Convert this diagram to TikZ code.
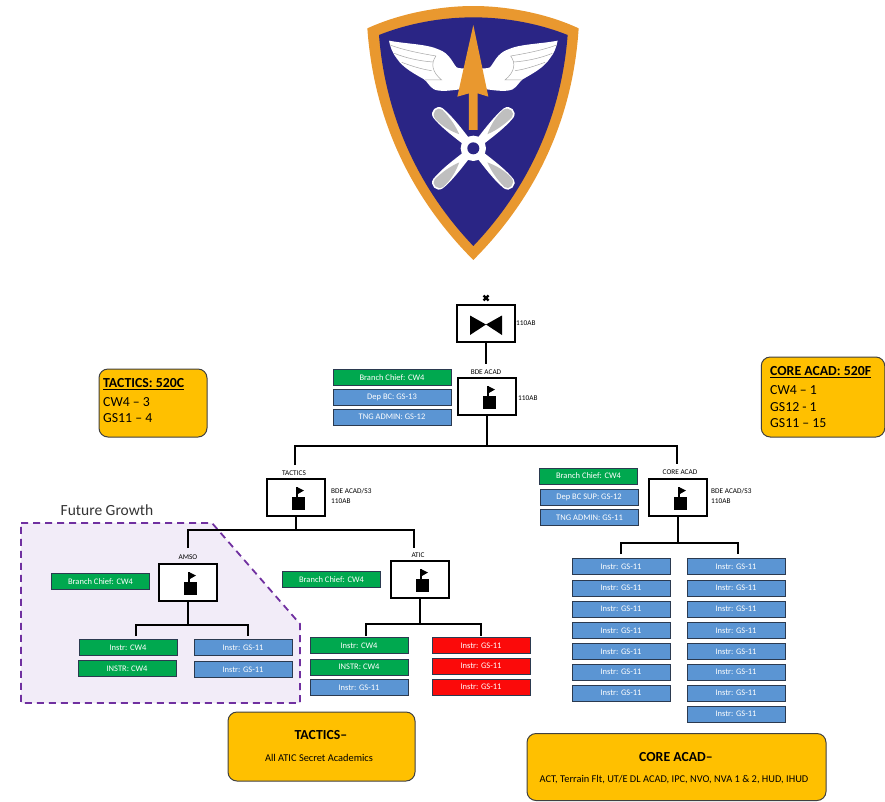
\documentclass[tikz,border=0pt]{standalone}
\usepackage{fontspec}
\setmainfont{Carlito}
\definecolor{shieldorange}{HTML}{E9982F}
\definecolor{shieldnavy}{HTML}{2A2585}
\definecolor{bargreen}{HTML}{00A84F}
\definecolor{barblue}{HTML}{5B95D3}
\definecolor{barred}{HTML}{FB0A0A}
\definecolor{barline}{HTML}{2B3A50}
\definecolor{callout}{HTML}{FFC000}
\definecolor{growthfill}{HTML}{F2ECF8}
\definecolor{growthline}{HTML}{7030A0}
\tikzset{
  bar/.style={rectangle,draw=barline,line width=1pt,minimum width=98pt,minimum height=16pt,inner sep=0pt,text=white,font=\fontsize{8.5}{10}\selectfont},
  greenbar/.style={bar,fill=bargreen},
  bluebar/.style={bar,fill=barblue},
  redbar/.style={bar,fill=barred},
  cmd/.style={rectangle,draw=black,fill=white,line width=2pt,minimum width=58pt,minimum height=37pt,inner sep=0pt},
  conn/.style={draw=black,line width=2pt},
  tag/.style={inner sep=0pt,text=black,font=\fontsize{7.3}{9.5}\selectfont},
  sidetag/.style={tag,anchor=west,align=left},
  callbox/.style={rectangle,rounded corners=9pt,draw=black!75,fill=callout,line width=1pt,inner sep=0pt},
  calltext/.style={anchor=west,inner sep=0pt,font=\fontsize{13.8}{16}\selectfont},
  flagicon/.pic={
    \fill[black] (-4.5,-1) rectangle (8.5,12.5);
    \fill[black] (0,-1) rectangle (2,-10.5);
    \fill[black] (1,-10.5) -- (8,-7) -- (1,-3) -- cycle;
  },
  wing/.pic={
    \fill[white] (147,122) .. controls (200,132) and (260,132) .. (295,148)
      .. controls (330,160) and (338,190) .. (350,202)
      .. controls (358,206) and (370,205) .. (380,205) -- (360,268)
      .. controls (330,272) and (300,276) .. (282,268)
      .. controls (268,260) and (262,245) .. (252,238)
      .. controls (225,222) and (190,205) .. (170,175)
      .. controls (158,160) and (150,140) .. (147,122) -- cycle;
    \draw[gray!70,line width=0.5pt]
      (150,135) .. controls (190,150) and (240,160) .. (288,168)
      (163,160) .. controls (200,175) and (240,183) .. (278,186)
      (185,187) .. controls (215,198) and (245,208) .. (275,212)
      (288,168) .. controls (272,190) and (275,215) .. (305,240) -- (255,240);
  },
  blade/.pic={
    \fill[white] (-12,-25) .. controls (-18,-70) and (-24,-120) .. (-20,-150)
      .. controls (-16,-172) and (16,-172) .. (20,-150)
      .. controls (24,-110) and (16,-60) .. (12,-25) -- cycle;
    \fill[gray!50] (-18,-145) .. controls (-20,-115) and (-12,-85) .. (0,-60)
      .. controls (10,-85) and (16,-115) .. (16,-148)
      .. controls (14,-166) and (-14,-166) .. (-18,-145) -- cycle;
  },
}
\begin{document}
\begin{tikzpicture}[x=1pt,y=-1pt]
\useasboundingbox (0,0) rectangle (885,801);

% ---------- emblem ----------
\begin{scope}[shift={(340,0)},x=0.3333pt,y=-0.3333pt]
  \fill[shieldorange] (82,85) .. controls (180,40) and (300,18) .. (400,18)
    .. controls (500,18) and (620,40) .. (716,85)
    .. controls (700,340) and (600,580) .. (400,780)
    .. controls (200,580) and (100,340) .. (82,85) -- cycle;
  \fill[shieldnavy] (117,105) .. controls (210,68) and (310,52) .. (400,52)
    .. controls (490,52) and (590,68) .. (683,105)
    .. controls (665,340) and (570,560) .. (400,738)
    .. controls (230,560) and (135,340) .. (117,105) -- cycle;
  \pic at (0,0) {wing};
  \pic[xscale=-1] at (800,0) {wing};
  \fill[shieldorange] (400,75) -- (445,290) -- (413,280) -- (413,390) -- (387,390) -- (387,280) -- (352,290) -- cycle;
  \foreach \a in {45,135,225,315} { \pic[rotate=\a] at (400,445) {blade}; }
  \fill[white] (400,445) circle (38);
  \fill[shieldnavy] (400,445) circle (18);
\end{scope}

% ---------- callouts ----------
\node[callbox,minimum width=108pt,minimum height=68pt] (tacticscall) at (153,403) {};
\node[calltext,font=\fontsize{13.8}{16}\selectfont\bfseries] (tacticscallA) at (103,384) {\underline{TACTICS: 520C}};
\node[calltext] (tacticscallB) at (103,402) {CW4 – 3};
\node[calltext] (tacticscallC) at (103,418) {GS11 – 4};

\node[callbox,minimum width=123.5pt,minimum height=80pt] (corecall) at (823,397) {};
\node[calltext,font=\fontsize{13.8}{16}\selectfont\bfseries] (corecallA) at (770,372) {\underline{CORE ACAD: 520F}};
\node[calltext] (corecallB) at (770,390) {CW4 – 1};
\node[calltext] (corecallC) at (770,407) {GS12 - 1};
\node[calltext] (corecallD) at (770,423) {GS11 – 15};

\node[callbox,minimum width=187pt,minimum height=69pt] (tacticsnote) at (321.5,746.5) {};
\node[inner sep=0pt,font=\fontsize{13.8}{16}\selectfont\bfseries] (tacticsnoteA) at (321,735) {TACTICS–};
\node[inner sep=0pt,font=\fontsize{10.4}{12}\selectfont] (tacticsnoteB) at (319,758) {All ATIC Secret Academics};

\node[callbox,minimum width=299pt,minimum height=67pt] (corenote) at (676.5,767) {};
\node[inner sep=0pt,font=\fontsize{13.8}{16}\selectfont\bfseries] (corenoteA) at (676,757) {CORE ACAD–};
\node[inner sep=0pt,font=\fontsize{10.4}{12}\selectfont] (corenoteB) at (674,780) {ACT, Terrain Flt, UT/E DL ACAD, IPC, NVO, NVA 1 \& 2, HUD, IHUD};

% ---------- future growth ----------
\fill[growthfill] (21,523) -- (212,523) -- (300,624) -- (300,703) -- (21,703) -- cycle;
\draw[growthline,line width=1.8pt,dash pattern=on 7pt off 5pt] (21,523) -- (212,523) -- (300,624) -- (300,703) -- (21,703) -- cycle;
\node[inner sep=0pt,font=\fontsize{15.5}{18}\selectfont,text=black!80] (growth) at (107,510) {Future Growth};

% ---------- command boxes ----------
\node[cmd] (top) at (486,323.5) {};
\fill[black] (470,315.5) -- (486,324.5) -- (470,335) -- cycle;
\fill[black] (502,315.5) -- (486,324.5) -- (502,335) -- cycle;
\draw[black,line width=2.2pt] (483.5,295.5) -- (488.5,300.5) (483.5,300.5) -- (488.5,295.5);
\node[sidetag] (toptag) at (516,323) {110AB};

\node[cmd] (bde) at (487,396.5) {};
\pic at (bde.center) {flagicon};
\node[tag] (bdelabel) at (486,372) {BDE ACAD};
\node[sidetag] (bdetag) at (518,398) {110AB};

\node[cmd] (tactics) at (296,497.5) {};
\pic at (tactics.center) {flagicon};
\node[tag] (tacticslabel) at (294,473) {TACTICS};
\node[sidetag] (tacticstag) at (331,496) {BDE ACAD/S3\\110AB};

\node[cmd] (core) at (678,497.5) {};
\pic at (core.center) {flagicon};
\node[tag] (corelabel) at (680,472) {CORE ACAD};
\node[sidetag] (coretag) at (711,496) {BDE ACAD/S3\\110AB};

\node[cmd] (amso) at (188,582.5) {};
\pic at (amso.center) {flagicon};
\node[tag] (amsolabel) at (188,557) {AMSO};

\node[cmd] (atic) at (420,579.5) {};
\pic at (atic.center) {flagicon};
\node[tag] (aticlabel) at (418,555) {ATIC};

% ---------- bars ----------
\node[greenbar,minimum width=118pt] (b1) at (392,377.5) {Branch Chief: CW4};
\node[bluebar,minimum width=118pt] (b2) at (392,397) {Dep BC: GS-13};
\node[bluebar,minimum width=118pt] (b3) at (392,417) {TNG ADMIN: GS-12};

\node[greenbar] (c1) at (588.5,476) {Branch Chief: CW4};
\node[bluebar] (c2) at (589,497) {Dep BC SUP: GS-12};
\node[bluebar] (c3) at (589.5,517.5) {TNG ADMIN: GS-11};

\node[greenbar] (am0) at (100.5,581.5) {Branch Chief: CW4};
\node[greenbar] (am1) at (128,647.5) {Instr: CW4};
\node[greenbar] (am2) at (127,668.5) {INSTR: CW4};
\node[bluebar] (am3) at (243,647.5) {Instr: GS-11};
\node[bluebar] (am4) at (243,669.5) {Instr: GS-11};

\node[greenbar] (at0) at (331.5,579.5) {Branch Chief: CW4};
\node[greenbar] (at1) at (359,645.5) {Instr: CW4};
\node[greenbar] (at2) at (359,667) {INSTR: CW4};
\node[bluebar] (at3) at (359,687.5) {Instr: GS-11};
\node[redbar] (at4) at (481,645.5) {Instr: GS-11};
\node[redbar] (at5) at (481,666) {Instr: GS-11};
\node[redbar] (at6) at (481,687) {Instr: GS-11};

\foreach \n/\y in {1/566.5,2/588,3/609,4/630.5,5/651.5,6/672,7/693} {
  \node[bluebar] (cl\n) at (621,\y) {Instr: GS-11};
}
\foreach \n/\y in {1/566.5,2/588,3/609,4/630.5,5/651.5,6/672,7/693,8/714} {
  \node[bluebar] (cr\n) at (736,\y) {Instr: GS-11};
}

% ---------- connectors ----------
\coordinate (bdein) at (486,364);
\coordinate (mainbus) at (487,446);
\coordinate (tacticsin) at (295,465);
\coordinate (corein) at (677,464);
\coordinate (tacticsbus) at (296,530);
\coordinate (amsoin) at (188,548);
\coordinate (aticin) at (414,548);
\coordinate (amsobus) at (188,625);
\coordinate (amsoL) at (136,636);
\coordinate (amsoR) at (248,636);
\coordinate (aticbus) at (420,624);
\coordinate (aticL) at (366,636);
\coordinate (aticR) at (481,636);
\coordinate (corebus) at (678,543);
\coordinate (coreL) at (621,554);
\coordinate (coreR) at (738,554);

\draw[conn] (top.south) -- (bdein);
\draw[conn] (bde.south) -- (mainbus);
\draw[conn] (tacticsin) |- (mainbus) -| (corein);
\draw[conn] (tactics.south) -- (tacticsbus);
\draw[conn] (amsoin) |- (tacticsbus) -| (aticin);
\draw[conn] (amso.south) -- (amsobus);
\draw[conn] (amsoL) |- (amsobus) -| (amsoR);
\draw[conn] (atic.south) -- (aticbus);
\draw[conn] (aticL) |- (aticbus) -| (aticR);
\draw[conn] (core.south) -- (corebus);
\draw[conn] (coreL) |- (corebus) -| (coreR);
\end{tikzpicture}
\end{document}
